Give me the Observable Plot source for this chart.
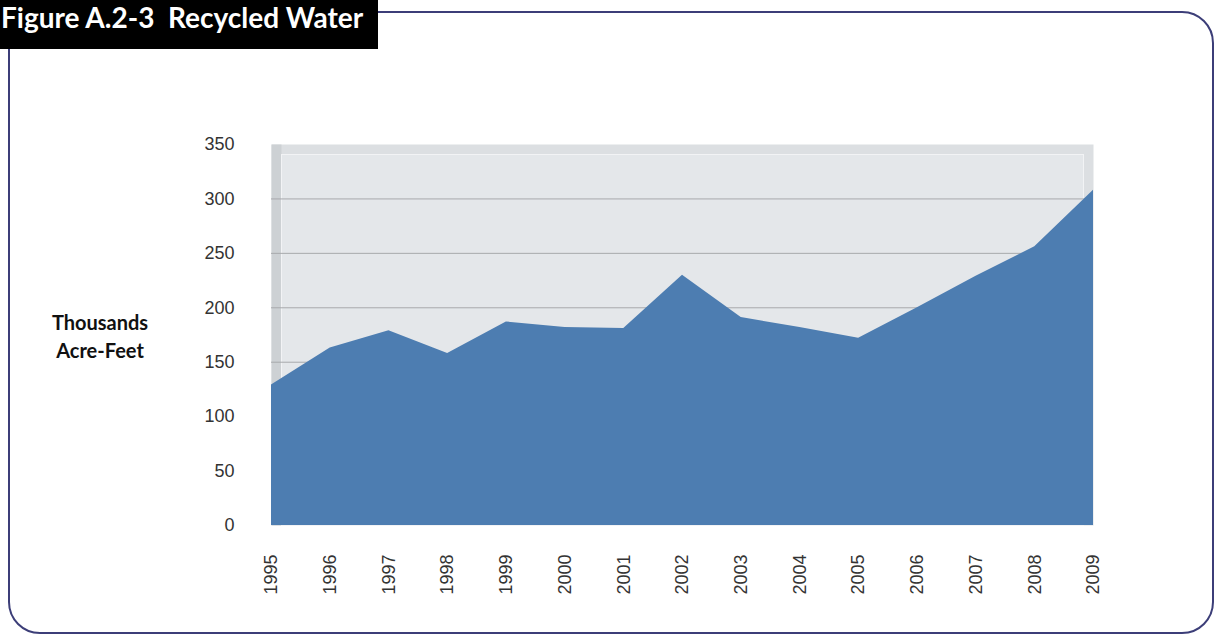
<!DOCTYPE html>
<html><head><meta charset="utf-8">
<script src="https://cdn.jsdelivr.net/npm/d3@7"></script>
<script src="https://cdn.jsdelivr.net/npm/@observablehq/plot@0.6"></script>
<style>
body{margin:0;background:#fff;}
#wrap{position:relative;width:1215px;height:636px;overflow:hidden;background:#fff;}
#border{position:absolute;left:8px;top:11px;width:1206px;height:623px;border:2px solid #3c3e78;border-radius:32px;box-sizing:border-box;}
#chart{position:absolute;left:0;top:0;}
#title{position:absolute;left:0;top:0;width:378px;height:49px;background:#000;color:#fff;font:bold 28px Lato,sans-serif;white-space:pre;line-height:34px;padding-left:1px;box-sizing:border-box;}
#ylab{position:absolute;left:26px;top:308px;width:148px;text-align:center;font:bold 20px Lato,sans-serif;line-height:28px;color:#111;}
</style></head>
<body>
<div id="wrap">
<div id="border"></div>
<div id="chart"></div>
<div id="title">Figure A.2-3  Recycled Water</div>
<div id="ylab">Thousands<br>Acre-Feet</div>
</div>
<script>
const years = [1995,1996,1997,1998,1999,2000,2001,2002,2003,2004,2005,2006,2007,2008,2009];
const values = [129,163,179,158,187,182,181,230,191,182,172,200,229,256,308];
const yTicks = [0,50,100,150,200,250,300,350];
const gridLines = [50,100,150,200,250,300];
const data = years.map((y,i)=>({year:y, value:values[i]}));

const chart = Plot.plot({
  width:1215, height:636,
  marginLeft:271, marginRight:122, marginTop:144, marginBottom:111,
  style:{fontFamily:"'Liberation Sans', Arial, sans-serif", fontSize:"18px", color:"#333", background:"transparent"},
  x:{domain:[1995,2009]},
  y:{domain:[0,350]},
  marks:[
    Plot.frame({fill:"#dcdfe2"}),
    Plot.frame({fill:"#cdd1d4", insetRight:812}),
    Plot.frame({fill:"#e4e7ea", stroke:"#f2f3f5", insetLeft:10, insetTop:10, insetRight:10}),
    Plot.ruleY(gridLines, {stroke:"#a7a9ac", strokeWidth:1}),
    Plot.areaY(data, {x:"year", y:"value", fill:"#4d7db1"}),
    Plot.axisY({ticks:yTicks, tickSize:0, tickPadding:37, label:null}),
    Plot.axisX({ticks:years, tickFormat:d=>String(d), tickRotate:-90, tickSize:0, tickPadding:29, label:null})
  ]
});
document.getElementById("chart").appendChild(chart);
</script>
</body></html>
